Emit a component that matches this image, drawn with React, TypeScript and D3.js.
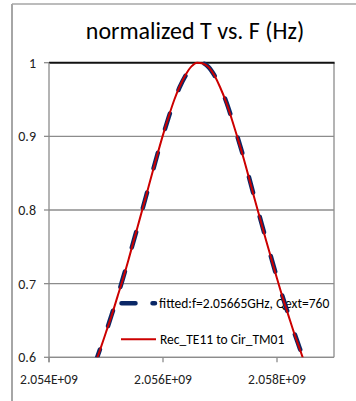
import React from "react";
import * as d3 from "d3";

// Frequencies (Hz) sampled along the curves
const freqs: number[] = [
  2.0548e9, 2.0549e9, 2.055e9, 2.0551e9, 2.0552e9, 2.0553e9, 2.0554e9, 2.0555e9,
  2.0556e9, 2.0557e9, 2.0558e9, 2.0559e9, 2.056e9, 2.0561e9, 2.0562e9, 2.0563e9,
  2.0564e9, 2.0565e9, 2.0566e9, 2.0567e9, 2.0568e9, 2.0569e9, 2.057e9, 2.0571e9,
  2.0572e9, 2.0573e9, 2.0574e9, 2.0575e9, 2.0576e9, 2.0577e9, 2.0578e9, 2.0579e9,
  2.058e9, 2.0581e9, 2.0582e9, 2.0583e9, 2.0584e9, 2.0585e9,
];
// fitted: f=2.05665GHz, Qext=760
const fittedT: number[] = [
  0.590, 0.612, 0.634, 0.658, 0.682, 0.708, 0.735, 0.762,
  0.790, 0.818, 0.847, 0.875, 0.901, 0.926, 0.949, 0.968,
  0.983, 0.994, 0.999, 0.999, 0.994, 0.983, 0.968, 0.949,
  0.926, 0.901, 0.875, 0.847, 0.818, 0.790, 0.762, 0.735,
  0.708, 0.682, 0.658, 0.634, 0.612, 0.590,
];
// Rec_TE11 to Cir_TM01
const simT: number[] = [
  0.589, 0.611, 0.634, 0.657, 0.682, 0.707, 0.734, 0.762,
  0.790, 0.818, 0.847, 0.875, 0.902, 0.927, 0.950, 0.969,
  0.984, 0.995, 1.000, 0.999, 0.994, 0.983, 0.967, 0.948,
  0.925, 0.900, 0.874, 0.846, 0.817, 0.789, 0.761, 0.734,
  0.707, 0.681, 0.657, 0.633, 0.611, 0.589,
];
const yTicks: number[] = [0.6, 0.7, 0.8, 0.9, 1];
const yTickLabels: string[] = ["0.6", "0.7", "0.8", "0.9", "1"];
const xTicks: number[] = [2.054e9, 2.056e9, 2.058e9];
const xTickLabels: string[] = ["2.054E+09", "2.056E+09", "2.058E+09"];
const title = "normalized T vs. F (Hz)";
const seriesNames: string[] = ["fitted:f=2.05665GHz, Qext=760", "Rec_TE11 to Cir_TM01"];

const W = 356;
const H = 401;
const L = 49;
const R = 334;
const T = 62.7;
const B = 357.3;
const FONT = "Carlito, Calibri, 'Liberation Sans', Arial, sans-serif";
const NAVY = "#0a2766";
const RED = "#cc0000";
const GRID = "#8c8c8c";

export default function App() {
  const x = d3.scaleLinear().domain([2.054e9, 2.059e9]).range([L, R]);
  const y = d3.scaleLinear().domain([0.6, 1]).range([B, T]);
  const line = d3
    .line<number>()
    .x((_, i) => x(freqs[i]))
    .y((d) => y(d))
    .curve(d3.curveMonotoneX);

  return (
    <svg
      width={W}
      height={H}
      style={{ position: "absolute", left: 0, top: 0, background: "#fff" }}
      fontFamily={FONT}
    >
      <defs>
        <clipPath id="plotclip">
          <rect x={L} y={T - 4} width={R - L} height={B - T + 4} />
        </clipPath>
      </defs>
      {/* chart frame */}
      <line x1={12} y1={4} x2={W} y2={4} stroke="#a6a6a6" strokeWidth={1.5} />
      <line x1={12} y1={4} x2={12} y2={H} stroke="#a6a6a6" strokeWidth={2} />

      {/* title */}
      <text x={195} y={38.5} textAnchor="middle" fontSize={24} fill="#000">
        {title}
      </text>

      {/* gridlines */}
      {yTicks.map((t) =>
        t === 1 ? null : (
          <line key={t} x1={L} x2={R} y1={y(t)} y2={y(t)} stroke={GRID} strokeWidth={1.3} />
        )
      )}
      {/* plot right border */}
      <line x1={R} x2={R} y1={T} y2={B} stroke={GRID} strokeWidth={1.3} />
      {/* top (1.0) line */}
      <line x1={L} x2={R + 0.6} y1={y(1)} y2={y(1)} stroke="#111" strokeWidth={2} />

      {/* y axis */}
      <line x1={L} x2={L} y1={T} y2={B + 5} stroke={GRID} strokeWidth={1.3} />
      {yTicks.map((t, i) => (
        <g key={t}>
          <line x1={L - 5} x2={L} y1={y(t)} y2={y(t)} stroke={GRID} strokeWidth={1.3} />
          <text x={36} y={y(t)} dy="0.35em" textAnchor="end" fontSize={14} fill="#222">
            {yTickLabels[i]}
          </text>
        </g>
      ))}
      {/* x axis */}
      <line x1={L} x2={R} y1={B} y2={B} stroke={GRID} strokeWidth={1.3} />
      {xTicks.map((t, i) => (
        <g key={t}>
          <line x1={x(t)} x2={x(t)} y1={B} y2={B + 5} stroke={GRID} strokeWidth={1.3} />
          <text x={x(t)} y={384} textAnchor="middle" fontSize={13.5} fill="#222">
            {xTickLabels[i]}
          </text>
        </g>
      ))}

      {/* legend */}
      <line x1={121.5} x2={155} y1={303.3} y2={303.3} stroke={NAVY} strokeWidth={4.5}
        strokeLinecap="round" strokeDasharray="14 17" />
      <text x={159} y={303.3} dy="0.35em" fontSize={13.5} fill="#000">{seriesNames[0]}</text>
      <line x1={121} x2={156} y1={339.3} y2={339.3} stroke={RED} strokeWidth={2} />
      <text x={160} y={339.3} dy="0.35em" fontSize={13.5} fill="#000">{seriesNames[1]}</text>

      {/* series */}
      <g clipPath="url(#plotclip)">
        <path d={line(fittedT) || ""} fill="none" stroke={NAVY} strokeWidth={4.5}
          strokeLinecap="round" strokeDasharray="16 25" />
        <path d={line(simT) || ""} fill="none" stroke={RED} strokeWidth={2} />
      </g>
    </svg>
  );
}
